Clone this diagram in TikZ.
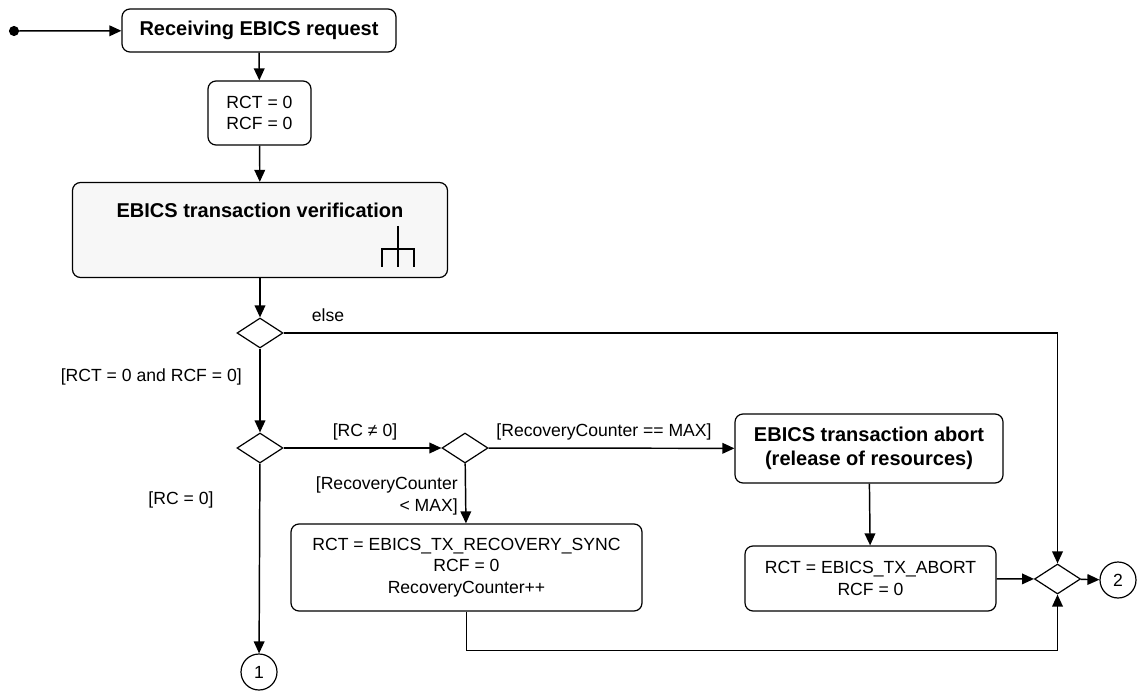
\documentclass[tikz,border=0pt]{standalone}
\usepackage{fontspec}
\setmainfont{Liberation Sans}
\usetikzlibrary{positioning}
\usetikzlibrary{arrows.meta}
\usetikzlibrary{shapes.geometric}

\begin{document}
\begin{tikzpicture}[x=0.75pt,y=-0.75pt,
  font=\fontsize{13.2}{16}\selectfont,
  title/.style={font=\fontsize{15}{18}\selectfont\bfseries},
  action/.style={draw,line width=0.9pt,rounded corners=6pt,align=center,inner sep=0pt},
  decision/.style={draw,line width=0.9pt,diamond,inner sep=0pt,minimum width=34.5pt,minimum height=22.5pt},
  connector/.style={draw,line width=0.9pt,circle,inner sep=0pt,minimum size=27pt},
  flow/.style={line width=1.1pt,-{Triangle[length=9pt,width=8pt]}},
  guard/.style={inner sep=0pt,align=right}]
\useasboundingbox (0,0) rectangle (1137,691);

% nodes
\fill (14,31) circle (3.8pt) coordinate (start);
\node[action,title,minimum width=205.5pt,minimum height=32.25pt] (recv) at (259,30.5) {Receiving EBICS request};
\node[action,minimum width=77.25pt,minimum height=48pt] (init) at (259.5,113) {RCT = 0\\RCF = 0};
\node[action,fill=black!3,minimum width=281.25pt,minimum height=71.25pt] (verify) at (260,230) {};
\node[title] at (260,210) {EBICS transaction verification};
\draw[line width=0.8pt] (398,226) -- (398,267);
\draw[line width=0.8pt] (382,267) -- (382,249) -- (414,249) -- (414,267);

\node[decision] (d1) at (260,333) {};
\node[decision] (d2) at (260,448) {};
\node[decision] (d3) at (465,448) {};
\node[decision] (merge) at (1057.5,579) {};

\node[action,title,minimum width=201pt,minimum height=51.75pt] (abort) at (869,448.5) {EBICS transaction abort\\(release of resources)};
\node[action,minimum width=263.25pt,minimum height=65.25pt] (recov) at (466.5,567.5) {RCT = EBICS\_TX\_RECOVERY\_SYNC\\RCF = 0\\RecoveryCounter++};
\node[action,minimum width=188.25pt,minimum height=48.75pt] (abortrct) at (870.5,578.5) {RCT = EBICS\_TX\_ABORT\\RCF = 0};

\node[connector] (c1) at (259,672) {1};
\node[connector] (c2) at (1118,580) {2};

% flows
\draw[flow] (start) -- (recv);
\draw[flow] (recv) -- (init);
\draw[flow] (init) -- (verify);
\draw[flow] (verify) -- (d1);
\draw[flow] (d1) -- (d2);
\draw[flow] (d1.east) -| (merge.north);
\draw[flow] (d2) -- (d3);
\draw[flow] (d2) -- (c1);
\draw[flow] (d3) -- (abort);
\draw[flow] (d3) -- (recov);
\draw[flow] (abort) -- (abortrct);
\draw[flow] (abortrct) -- (merge);
\draw[flow] (recov.south) -- ++(0,39) -| (merge.south);
\draw[flow] (merge) -- (c2);

% guards
\node[guard] at (328,315) {else};
\node[guard,anchor=east] at (242,377) {[RCT = 0 and RCF = 0]};
\node[guard] at (365,432) {[RC ≠ 0]};
\node[guard] at (604,432) {[RecoveryCounter == MAX]};
\node[guard,anchor=east] at (458,496) {[RecoveryCounter\\< MAX]};
\node[guard] at (181,500) {[RC = 0]};
\end{tikzpicture}
\end{document}
